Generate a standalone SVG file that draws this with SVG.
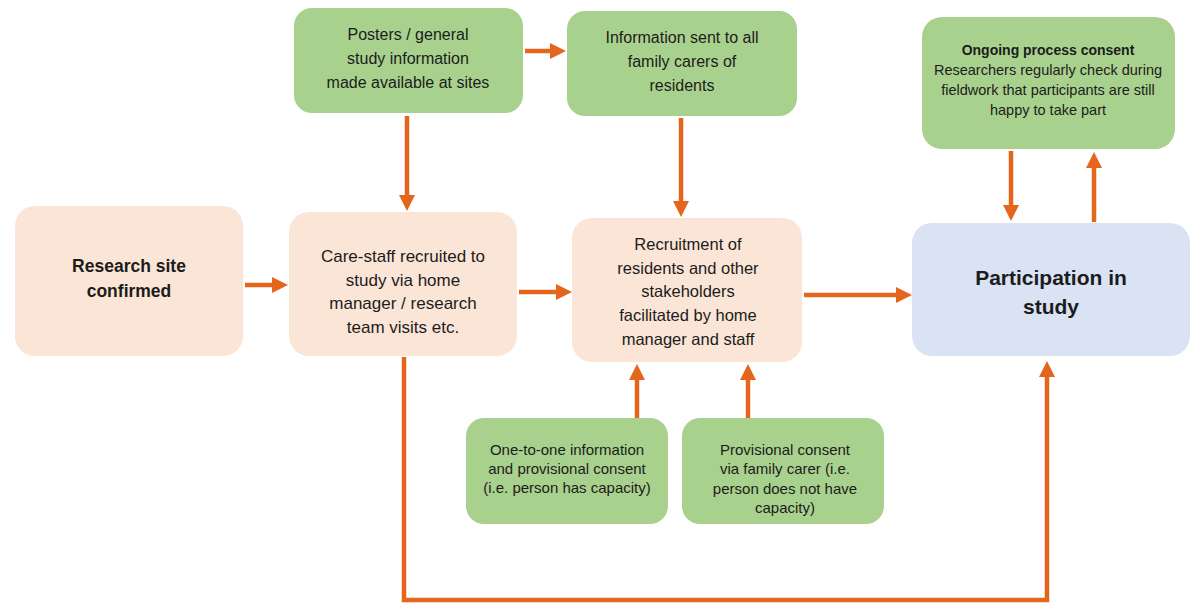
<svg xmlns="http://www.w3.org/2000/svg" width="1194" height="603" viewBox="0 0 1194 603">
<style>
.g{fill:#a9d18e}
.p{fill:#fbe5d6}
.b{fill:#dae3f3}
text{font-family:"Liberation Sans",Arial,sans-serif;fill:#1c1c1c;text-anchor:middle}
.bold{font-weight:bold}
.c{fill:none;stroke:#e3661c;stroke-width:4.5}
</style>
<defs>
<marker id="ah" markerWidth="16" markerHeight="16" refX="0" refY="8" orient="auto" markerUnits="userSpaceOnUse">
<path d="M0,0 L16,8 L0,16 z" fill="#e3661c"/>
</marker>
</defs>
<rect width="1194" height="603" fill="#ffffff"/>
<g id="connectors">
<line class="c" x1="245" y1="285" x2="272" y2="285" marker-end="url(#ah)"/>
<line class="c" x1="519" y1="292" x2="556" y2="292" marker-end="url(#ah)"/>
<line class="c" x1="804" y1="295" x2="896" y2="295" marker-end="url(#ah)"/>
<line class="c" x1="407" y1="116" x2="407" y2="195" marker-end="url(#ah)"/>
<line class="c" x1="525" y1="51" x2="550" y2="51" marker-end="url(#ah)"/>
<line class="c" x1="681" y1="118" x2="681" y2="201" marker-end="url(#ah)"/>
<line class="c" x1="1011" y1="151" x2="1011" y2="205" marker-end="url(#ah)"/>
<line class="c" x1="1094" y1="222" x2="1094" y2="168" marker-end="url(#ah)"/>
<line class="c" x1="637" y1="418" x2="637" y2="380" marker-end="url(#ah)"/>
<line class="c" x1="748" y1="418" x2="748" y2="380" marker-end="url(#ah)"/>
<polyline class="c" points="404,357 404,600 1047,600 1047,377" marker-end="url(#ah)"/>
</g>
<g id="n_posters">
<rect class="g" x="294" y="8" width="229" height="105" rx="18"/>
<text font-size="16"><tspan x="408" y="40">Posters / general</tspan><tspan x="408" y="64">study information</tspan><tspan x="408" y="88">made available at sites</tspan></text>
</g>
<g id="n_info">
<rect class="g" x="567" y="11" width="230" height="105" rx="18"/>
<text font-size="16"><tspan x="682" y="43">Information sent to all</tspan><tspan x="682" y="67">family carers of</tspan><tspan x="682" y="91">residents</tspan></text>
</g>
<g id="n_ongoing">
<rect class="g" x="922" y="17" width="253" height="132" rx="20"/>
<text font-size="14" class="bold"><tspan x="1048" y="55">Ongoing process consent</tspan></text>
<text font-size="14.5"><tspan x="1048" y="75">Researchers regularly check during</tspan><tspan x="1048" y="95">fieldwork that participants are still</tspan><tspan x="1048" y="115">happy to take part</tspan></text>
</g>
<g id="n_site">
<rect class="p" x="15" y="206" width="228" height="150" rx="20"/>
<text font-size="17.5" class="bold"><tspan x="129" y="272">Research site</tspan><tspan x="129" y="297">confirmed</tspan></text>
</g>
<g id="n_care">
<rect class="p" x="289" y="212" width="228" height="144" rx="20"/>
<text font-size="17"><tspan x="403" y="262">Care-staff recruited to</tspan><tspan x="403" y="286">study via home</tspan><tspan x="403" y="309">manager / research</tspan><tspan x="403" y="333">team visits etc.</tspan></text>
</g>
<g id="n_recruit">
<rect class="p" x="572" y="218" width="230" height="144" rx="20"/>
<text font-size="16.5"><tspan x="688" y="250">Recruitment of</tspan><tspan x="688" y="274">residents and other</tspan><tspan x="688" y="297">stakeholders</tspan><tspan x="688" y="321">facilitated by home</tspan><tspan x="688" y="345">manager and staff</tspan></text>
</g>
<g id="n_participation">
<rect class="b" x="912" y="223" width="278" height="133" rx="20"/>
<text font-size="21" class="bold"><tspan x="1051" y="285">Participation in</tspan><tspan x="1051" y="314">study</tspan></text>
</g>
<g id="n_onetoone">
<rect class="g" x="466" y="418" width="202" height="106" rx="18"/>
<text font-size="15"><tspan x="567" y="455">One-to-one information</tspan><tspan x="567" y="474">and provisional consent</tspan><tspan x="567" y="493">(i.e. person has capacity)</tspan></text>
</g>
<g id="n_provisional">
<rect class="g" x="682" y="418" width="202" height="106" rx="18"/>
<text font-size="15"><tspan x="785" y="455">Provisional consent</tspan><tspan x="785" y="474">via family carer (i.e.</tspan><tspan x="785" y="494">person does not have</tspan><tspan x="785" y="513">capacity)</tspan></text>
</g>
</svg>
